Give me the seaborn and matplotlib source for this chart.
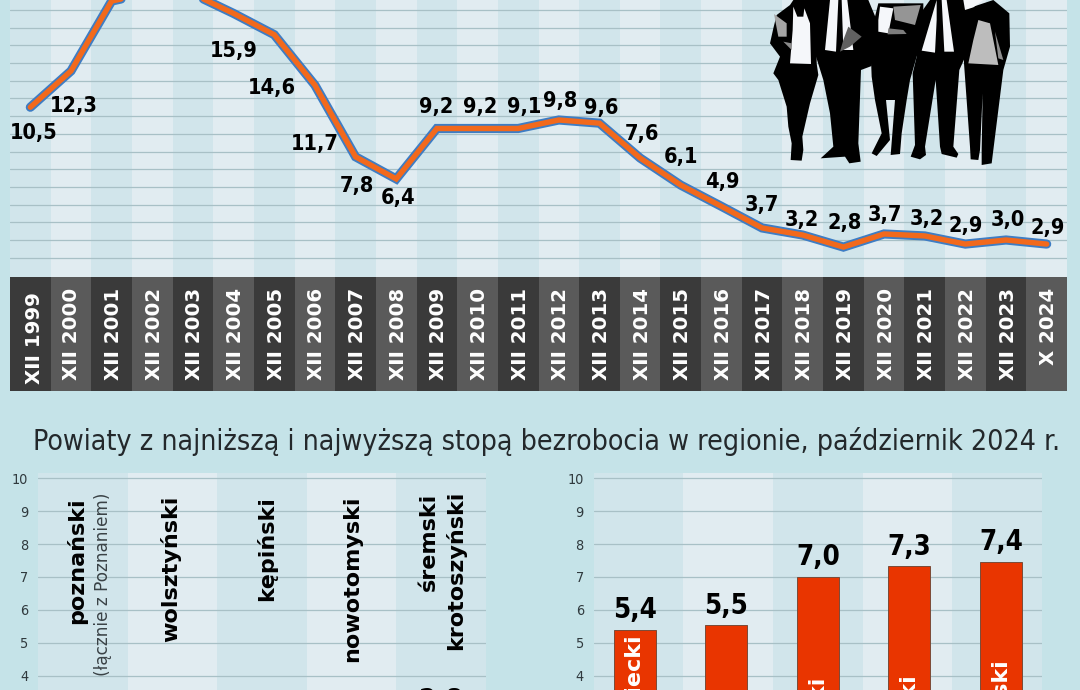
import numpy as np
import pandas as pd
import matplotlib
matplotlib.use("Agg")
import matplotlib.pyplot as plt
from matplotlib.patches import Polygon
from matplotlib.transforms import ScaledTranslation
import seaborn as sns

# ---------- data ----------
periods = ["XII 1999", "XII 2000", "XII 2001", "XII 2002", "XII 2003", "XII 2004", "XII 2005",
           "XII 2006", "XII 2007", "XII 2008", "XII 2009", "XII 2010", "XII 2011", "XII 2012",
           "XII 2013", "XII 2014", "XII 2015", "XII 2016", "XII 2017", "XII 2018", "XII 2019",
           "XII 2020", "XII 2021", "XII 2022", "XII 2023", "X 2024"]
rate = [10.5, 12.55, 16.5, 17.0, 16.9, 15.8, 14.6, 11.75, 7.7, 6.45, 9.3, 9.3, 9.3, 9.78, 9.6,
        7.63, 6.1, 4.9, 3.68, 3.28, 2.6, 3.34, 3.23, 2.77, 3.0, 2.77]
rate_labels = ["10,5", "12,3", "", "", "", "15,9", "14,6", "11,7", "7,8", "6,4", "9,2", "9,2", "9,1",
               "9,8", "9,6", "7,6", "6,1", "4,9", "3,7", "3,2", "2,8", "3,7", "3,2", "2,9", "3,0", "2,9"]

low_names = ["poznański", "wolsztyński", "kępiński", "nowotomyski", "śremski, krotoszyński"]
low_values = [1.4, 1.6, 1.9, 2.2, 2.65]
low_labels = ["", "", "", "", "2,8"]

high_names = ["wągrowiecki", "kolski", "grodziski", "obornicki", "chodzieski"]
high_values = [5.4, 5.53, 7.0, 7.32, 7.47]
high_labels = ["5,4", "5,5", "7,0", "7,3", "7,4"]

title = "Powiaty z najniższą i najwyższą stopą bezrobocia w regionie, październik 2024 r."

# ---------- layout ----------
W, H = 1080, 690
BG = "#C5E3E8"
S1, S2 = "#D1E5EB", "#E1ECF1"
GRID = "#A8C0C6"
TXT = "#303A3E"

sns.set_theme(style="white")
plt.rcParams["font.family"] = ["DejaVu Sans"]

fig = plt.figure(figsize=(W / 100, H / 100), dpi=100, facecolor=BG)


def ax_px(l, t, r, b, **kw):
    return fig.add_axes([l / W, 1 - b / H, (r - l) / W, (b - t) / H], **kw)


def px_text(x, y, s, **kw):
    kw.setdefault("ha", "center")
    kw.setdefault("va", "center")
    return fig.text(x / W, 1 - y / H, s, **kw)


# ---------- band behind the period labels ----------
band = ax_px(10, 277, 1067, 391, zorder=0)
band.set_xlim(-0.5, 25.5)
band.set_ylim(0, 1)
band.axis("off")
for i in range(len(periods)):
    band.axvspan(i - 0.5, i + 0.5, color="#3A3A3A" if i % 2 == 0 else "#5A5A5A", lw=0)

# ---------- line chart ----------
ax = ax_px(10, 0, 1067, 276.5, zorder=1)
ax.patch.set_alpha(0)
df = pd.DataFrame({"period": periods, "rate": rate})
for i in range(len(periods)):
    ax.axvspan(i - 0.5, i + 0.5, color=S1 if i % 2 == 0 else S2, lw=0, zorder=0)
sns.lineplot(data=df, x="period", y="rate", sort=False, color="#3E7DC4", lw=6.6, ax=ax,
             solid_capstyle="round", solid_joinstyle="miter", zorder=3)
sns.lineplot(data=df, x="period", y="rate", sort=False, color="#F2691C", lw=3.9, ax=ax,
             solid_capstyle="round", solid_joinstyle="miter", zorder=4)
ax.set_xlim(-0.5, 25.5)
ax.set_ylim(3 + (240 - 276.5) / 17.7, 3 + 240 / 17.7)
ax.set_yticks(range(2, 17))
ax.set_yticklabels([])
ax.set_xlabel("")
ax.set_ylabel("")
ax.grid(axis="y", color=GRID, lw=0.9)
ax.set_axisbelow(True)
ax.tick_params(axis="x", length=0, pad=8.3, labelsize=14.2, labelcolor="white")
ax.tick_params(axis="y", length=0)
for i, t in enumerate(ax.get_xticklabels()):
    t.set_rotation(90)
    t.set_va("top")
    t.set_ha("center")
    t.set_fontweight("bold")
    dx, dy = {0: (4.5, -4), 1: (0.5, 0)}.get(i, (2, 0))
    t.set_transform(t.get_transform() + ScaledTranslation(dx / 100, dy / 100, fig.dpi_scale_trans))
for s in ax.spines.values():
    s.set_visible(False)

label_x = [34, 74, 0, 0, 0, 234, 272, 314.5, 357, 398, 436, 480, 524, 560, 601, 642, 681, 722, 762,
           802, 845, 885, 927, 966, 1008, 1048]
label_y = [133, 106, 0, 0, 0, 51, 88, 144, 186, 198, 107, 107, 107, 101, 108, 134, 157, 182, 205,
           220, 223, 215, 219, 226, 220, 228]
for s, x, y in zip(rate_labels, label_x, label_y):
    if s:
        px_text(x, y, s, fontsize=15.6, fontweight="bold", fontstretch="condensed", color="black", zorder=6)

# ---------- silhouettes (decoration, zoomed picture coordinates) ----------
deco = ax_px(0, 0, W, H, zorder=2)
deco.set_xlim(0, W)
deco.set_ylim(H, 0)
deco.axis("off")


def shape(pts, color):
    p = np.array(pts, dtype=float)
    deco.add_patch(Polygon(np.c_[760 + p[:, 0] / 3, p[:, 1] / 3], closed=True, fc=color, ec="none"))


people = [
    [(100, 0), (90, 15), (50, 45), (40, 85), (30, 130), (60, 170), (40, 220), (55, 240), (80, 320),
     (85, 380), (95, 430), (92, 480), (125, 482), (130, 450), (127, 410), (150, 310), (175, 225),
     (170, 190), (170, 0)],
    [(165, 0), (165, 160), (190, 240), (210, 340), (220, 440), (182, 475), (255, 470), (268, 490),
     (302, 485), (295, 430), (303, 210), (335, 198), (350, 60), (325, 0)],
    [(345, 50), (355, 10), (490, 10), (490, 100), (470, 170), (450, 240), (440, 300), (425, 400), (420, 462),
     (392, 465), (405, 300), (378, 300), (390, 420), (350, 468), (335, 460), (365, 400), (345, 300),
     (335, 230), (330, 100)],
    [(510, 0), (460, 70), (470, 170), (458, 220), (465, 435), (452, 470), (480, 478), (498, 465),
     (495, 440), (527, 240), (540, 440), (545, 462), (590, 473), (595, 462), (580, 440), (598, 210),
     (625, 150), (625, 0)],
    [(610, 30), (700, 0), (748, 40), (750, 140), (730, 210), (700, 450), (695, 490), (665, 495),
     (665, 450), (668, 280), (660, 450), (655, 480), (632, 478), (630, 440), (612, 190), (612, 100)],
]
for p in people:
    shape(p, "black")
shirts = [
    [(100, 20), (112, 50), (130, 50), (133, 25), (150, 70), (153, 192), (90, 190), (98, 90)],
    [(210, 0), (195, 150), (228, 155), (235, 0)],
    [(245, 0), (250, 150), (280, 150), (262, 0)],
    [(360, 20), (400, 25), (385, 100), (355, 95), (355, 60)],
    [(530, 0), (485, 152), (525, 158), (530, 60)],
    [(545, 0), (553, 155), (582, 155), (560, 0)],
    [(610, 0), (615, 30), (640, 22), (670, 0)],
]
for p in shirts:
    shape(p, "#F5F7FA")
greys = [
    ([(42, 42), (80, 70), (80, 110), (55, 110)], "#A5A5A5"),
    ([(70, 125), (95, 130), (95, 150)], "#8A8A8A"),
    ([(265, 80), (305, 110), (270, 140), (240, 155), (250, 120)], "#606060"),
    ([(400, 20), (482, 15), (465, 75), (405, 60)], "#959595"),
    ([(385, 85), (430, 90), (440, 102), (383, 103)], "#7D7D7D"),
    ([(655, 60), (690, 70), (715, 195), (625, 190), (640, 120)], "#BDBDBD"),
    ([(705, 95), (730, 180), (715, 175)], "#8F8F8F"),
]
for p, c in greys:
    shape(p, c)

# ---------- section title ----------
px_text(547, 441, title, fontsize=20.45, fontstretch="condensed", color="#23282B")


# ---------- bar panels ----------
def bar_panel(l, r, names, values, labels, color, xlim, wid):
    a = ax_px(l, 473, r, 807.3, zorder=1)
    a.patch.set_alpha(0)
    edges = np.linspace(xlim[0], xlim[1], 6)
    for i in range(5):
        a.axvspan(edges[i], edges[i + 1], color=S1 if i % 2 == 0 else S2, lw=0, zorder=0)
    sns.barplot(x=names, y=values, color=color, saturation=1, width=wid, ax=a,
                edgecolor="#7A4A38", linewidth=0.7, zorder=3)
    a.set_xlim(*xlim)
    a.set_ylim(0, 334.3 / 32.9)
    a.set_yticks(range(4, 11))
    a.grid(axis="y", color=GRID, lw=0.9)
    a.set_axisbelow(True)
    a.tick_params(axis="y", length=0, pad=7, labelsize=10.4, labelcolor=TXT)
    for t in a.get_yticklabels():
        t.set_fontstretch("condensed")
    a.set_xticks([])
    a.set_xlabel("")
    a.set_ylabel("")
    for s in a.spines.values():
        s.set_visible(False)
    for i, (v, s) in enumerate(zip(values, labels)):
        if s:
            a.annotate(s, (i, v), xytext=(0, 4), textcoords="offset points", ha="center", va="bottom",
                       fontsize=19.8, fontweight="bold", fontstretch="condensed", color="black", zorder=5)
    return a


left = bar_panel(38, 486, low_names, low_values, low_labels, "#3E7DC4", (-0.5, 4.5), 0.46)
right = bar_panel(593.5, 1042, high_names, high_values, high_labels, "#E93500",
                  (-0.448, 4.448), 0.458)

# names above the low bars
name_kw = dict(rotation=90, ha="center", va="top", fontsize=16, fontweight="bold", color="black", zorder=6)
left_names = [("poznański", 76.5, 497), ("wolsztyński", 170.7, 496), ("kępiński", 266.5, 496),
              ("nowotomyski", 352.4, 496), ("śremski", 429, 493), ("krotoszyński", 456, 491)]
for s, x, y in left_names:
    px_text(x, y, s, **name_kw)
px_text(103, 493, "(łącznie z Poznaniem)", rotation=90, ha="center", va="top", fontsize=12.2,
        color="#3A4246", zorder=6)

# names inside the high bars
for i, s in enumerate(high_names):
    right.text(i, 0.5, s, rotation=90, ha="center", va="bottom", fontsize=16, fontweight="bold",
               color="white", zorder=6)

fig.savefig("out.png", dpi=100, facecolor=BG)
